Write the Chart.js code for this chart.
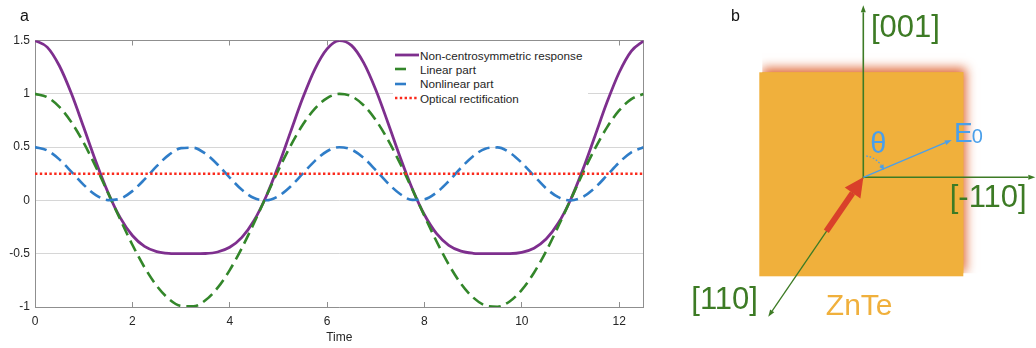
<!DOCTYPE html>
<html>
<head>
<meta charset="utf-8">
<script src="https://cdn.jsdelivr.net/npm/chart.js@4.4.1/dist/chart.umd.min.js"></script>
<style>
  html, body { margin: 0; padding: 0; background: #fff; }
  body { width: 1036px; height: 348px; position: relative; overflow: hidden; font-family: "Liberation Sans", Arial, sans-serif; }
  #wrapA { position: absolute; left: 0; top: 0; width: 660px; height: 348px; }
  #wrapB { position: absolute; left: 660px; top: 0; width: 376px; height: 348px; }
  .tag { position: absolute; font-size: 16px; line-height: 16px; color: #111; }
  #legendA { position: absolute; left: 393px; top: 41px; width: 195px; padding: 7px 0 6px; background: #fff; font-size: 11.7px; color: #262626; }
  #legendA .row { display: flex; align-items: center; height: 14.3px; white-space: nowrap; }
  #legendA svg { margin-left: 2px; margin-right: 1px; flex: none; }
</style>
</head>
<body>
<div id="wrapA"><canvas id="lineChart" width="660" height="348"></canvas></div>
<div id="wrapB"><canvas id="crystalChart" width="376" height="348"></canvas></div>
<div id="legendA"></div>
<span class="tag" style="left:20px; top:8px;">a</span>
<span class="tag" style="left:731px; top:8px;">b</span>

<script>
  const FONT = '"Liberation Sans", Arial, sans-serif';

  // ── DATA (panel a) ──
  const time = [0, 0.25, 0.5, 0.75, 1, 1.25, 1.5, 1.75, 2, 2.25, 2.5, 2.75, 3, 3.25, 3.5, 3.75, 4, 4.25, 4.5, 4.75,
    5, 5.25, 5.5, 5.75, 6, 6.25, 6.5, 6.75, 7, 7.25, 7.5, 7.75, 8, 8.25, 8.5, 8.75, 9, 9.25, 9.5, 9.75,
    10, 10.25, 10.5, 10.75, 11, 11.25, 11.5, 11.75, 12, 12.25, 12.5];
  const response = [1.5, 1.438, 1.263, 1.0, 0.686, 0.365, 0.074, -0.162, -0.329, -0.431, -0.480, -0.497, -0.500, -0.500,
    -0.498, -0.484, -0.440, -0.347, -0.189, 0.039, 0.324, 0.643, 0.960, 1.232, 1.421, 1.498, 1.454, 1.292, 1.038,
    0.729, 0.407, 0.109, -0.135, -0.312, -0.421, -0.476, -0.496, -0.500, -0.500, -0.499, -0.487, -0.448, -0.363,
    -0.213, 0.004, 0.284, 0.600, 0.920, 1.200, 1.401, 1.496];
  const linearPart = [1, 0.969, 0.878, 0.732, 0.540, 0.315, 0.071, -0.178, -0.416, -0.628, -0.801, -0.924, -0.990, -0.994,
    -0.937, -0.821, -0.654, -0.446, -0.211, 0.038, 0.284, 0.512, 0.709, 0.861, 0.960, 0.999, 0.977, 0.893, 0.754,
    0.568, 0.347, 0.104, -0.146, -0.386, -0.602, -0.781, -0.911, -0.985, -0.997, -0.948, -0.839, -0.679, -0.476,
    -0.243, 0.004, 0.252, 0.483, 0.685, 0.844, 0.950, 0.998];
  const nonlinearPart = [0.5, 0.469, 0.385, 0.268, 0.146, 0.050, 0.003, 0.016, 0.087, 0.197, 0.321, 0.427, 0.490, 0.494,
    0.439, 0.337, 0.214, 0.099, 0.022, 0.001, 0.040, 0.131, 0.251, 0.371, 0.461, 0.499, 0.477, 0.399, 0.284,
    0.161, 0.060, 0.005, 0.011, 0.074, 0.181, 0.305, 0.415, 0.485, 0.497, 0.449, 0.352, 0.231, 0.113,
    0.030, 0.000, 0.032, 0.117, 0.235, 0.356, 0.451, 0.498];
  const rectTime = [0, 12.5];
  const rectification = [0.25, 0.25];

  const seriesNames = ['Non-centrosymmetric response', 'Linear part', 'Nonlinear part', 'Optical rectification'];
  const xTicks = [0, 2, 4, 6, 8, 10, 12];
  const xTickLabels = ['0', '2', '4', '6', '8', '10', '12'];
  const yTicks = [-1, -0.5, 0, 0.5, 1, 1.5];
  const yTickLabels = ['-1', '-0.5', '0', '0.5', '1', '1.5'];

  const pts = (xs, ys) => xs.map((x, i) => ({ x: x, y: ys[i] }));

  // ── LINE CHART (panel a) ──
  const frameColor = '#8f8f8f';
  const sharedX = {
    type: 'linear', min: 0, max: 12.5,
    afterBuildTicks: s => { s.ticks = xTicks.map(v => ({ value: v })); },
    grid: { drawOnChartArea: false, drawTicks: true, tickLength: -5, color: frameColor, lineWidth: 1 },
    border: { display: true, color: frameColor, width: 1 }
  };

  const lineChart = new Chart(document.getElementById('lineChart').getContext('2d'), {
    type: 'line',
    data: {
      datasets: [
        { label: seriesNames[0], data: pts(time, response), borderColor: '#7e2f8e', borderWidth: 2.8, order: 4 },
        { label: seriesNames[1], data: pts(time, linearPart), borderColor: '#33862a', borderWidth: 2.6, borderDash: [12, 6], order: 3 },
        { label: seriesNames[2], data: pts(time, nonlinearPart), borderColor: '#2f7dc8', borderWidth: 2.6, borderDash: [12, 6], order: 2 },
        { label: seriesNames[3], data: pts(rectTime, rectification), borderColor: '#fa2a1c', borderWidth: 2.6, borderDash: [2.4, 2.4], order: 1 }
      ]
    },
    options: {
      responsive: false,
      animation: false,
      events: [],
      layout: { padding: { left: 0, right: 16.5, top: 40.5, bottom: 0 } },
      elements: {
        point: { radius: 0 },
        line: { cubicInterpolationMode: 'monotone', borderCapStyle: 'butt', fill: false }
      },
      plugins: { legend: { display: false }, tooltip: { enabled: false } },
      scales: {
        x: Object.assign({}, sharedX, {
          position: 'bottom',
          afterFit: s => { s.height = 41; },
          ticks: {
            padding: 12, color: '#262626', font: { family: FONT, size: 12 }, maxRotation: 0, autoSkip: false,
            callback: v => xTickLabels[xTicks.indexOf(v)]
          },
          title: { display: true, text: 'Time', color: '#262626', font: { family: FONT, size: 12 }, padding: { top: 0, bottom: 3 } }
        }),
        x2: Object.assign({}, sharedX, {
          position: 'top',
          afterFit: s => { s.height = 0; },
          ticks: { display: false }
        }),
        y: {
          type: 'linear', position: 'left', min: -1, max: 1.5,
          afterBuildTicks: s => { s.ticks = yTicks.map(v => ({ value: v })); },
          afterFit: s => { s.width = 35; },
          grid: { color: '#d6d6d6', lineWidth: 1, drawTicks: false },
          border: { display: true, color: frameColor, width: 1 },
          ticks: {
            padding: 5, color: '#262626', font: { family: FONT, size: 12 },
            callback: v => yTickLabels[yTicks.indexOf(v)]
          }
        },
        y2: {
          type: 'linear', position: 'right', min: -1, max: 1.5,
          afterFit: s => { s.width = 0; },
          grid: { display: false, drawTicks: false },
          border: { display: true, color: frameColor, width: 1 },
          ticks: { display: false }
        }
      }
    }
  });

  // ── HTML LEGEND ──
  (function() {
    const box = document.getElementById('legendA');
    lineChart.data.datasets.forEach(ds => {
      const row = document.createElement('div');
      row.className = 'row';
      const dash = ds.borderDash ? (ds.borderDash[0] > 5 ? '11 14' : ds.borderDash.join(' ')) : 'none';
      row.innerHTML =
        '<svg width="24" height="6"><line x1="0" y1="3" x2="24" y2="3" stroke="' + ds.borderColor +
        '" stroke-width="' + ds.borderWidth + '" stroke-dasharray="' + dash + '"/></svg>' +
        '<span>' + ds.label + '</span>';
      box.appendChild(row);
    });
  })();

  // ── DIAGRAM (panel b) ──
  // frame: origin at the crystal axes crossing, y up
  const crystal = { left: -104, right: 100, bottom: -99, top: 105 };
  const axis001 = [[0, 0], [0, 165]];
  const axisM110 = [[0, 0], [165, 0]];
  const axis110 = [[0, 0], [-91.1, -133.6]];
  const fieldE0 = [[0, 0], [82, 34.6]];
  const beamArrow = [[-37, -54], [-10.7, -15.7]];
  const thetaArc = { radius: 21.5, from: 82, to: 33 };

  const green = '#3d7b25';
  const blue = '#4a9fea';
  const orange = '#f0b03c';

  const toXY = a => a.map(p => ({ x: p[0], y: p[1] }));

  function drawHead(ctx, bx, by, dx, dy, len, width, color) {
    const n = Math.hypot(dx, dy);
    const ux = dx / n, uy = dy / n;
    ctx.beginPath();
    ctx.moveTo(bx + ux * len, by + uy * len);
    ctx.lineTo(bx - uy * width / 2, by + ux * width / 2);
    ctx.lineTo(bx + uy * width / 2, by - ux * width / 2);
    ctx.closePath();
    ctx.fillStyle = color;
    ctx.fill();
  }

  const crystalPlugin = {
    id: 'crystal',
    beforeDatasetsDraw(chart) {
      const { ctx, scales: { x, y } } = chart;
      const l = x.getPixelForValue(crystal.left), r = x.getPixelForValue(crystal.right);
      const t = y.getPixelForValue(crystal.top), b = y.getPixelForValue(crystal.bottom);
      ctx.save();
      ctx.beginPath();
      ctx.rect(l + 3, t - 20, r - l + 17, b - t + 17);
      ctx.clip();
      ctx.shadowColor = 'rgba(222,98,48,0.95)';
      ctx.shadowBlur = 10;
      ctx.shadowOffsetX = 3;
      ctx.shadowOffsetY = -4;
      ctx.fillStyle = orange;
      ctx.fillRect(l, t, r - l, b - t);
      ctx.restore();
      ctx.fillStyle = orange;
      ctx.fillRect(l, t, r - l, b - t);
    },
    afterDatasetsDraw(chart) {
      const { ctx, scales: { x, y } } = chart;
      ctx.save();
      // arrow heads on the line datasets
      chart.data.datasets.forEach(ds => {
        if (!ds.head) return;
        const n = ds.data.length;
        const p0 = ds.data[n - 2], p1 = ds.data[n - 1];
        const x0 = x.getPixelForValue(p0.x), y0 = y.getPixelForValue(p0.y);
        const x1 = x.getPixelForValue(p1.x), y1 = y.getPixelForValue(p1.y);
        drawHead(ctx, x1, y1, x1 - x0, y1 - y0, ds.head[0], ds.head[1], ds.borderColor);
      });
      // theta arc
      const cx = x.getPixelForValue(0), cy = y.getPixelForValue(0);
      const a0 = -thetaArc.from * Math.PI / 180, a1 = -thetaArc.to * Math.PI / 180;
      ctx.beginPath();
      ctx.setLineDash([1.6, 1.8]);
      ctx.lineWidth = 1.3;
      ctx.strokeStyle = blue;
      ctx.arc(cx, cy, thetaArc.radius, a0, a1, false);
      ctx.stroke();
      ctx.setLineDash([]);
      const ex = cx + thetaArc.radius * Math.cos(a1), ey = cy + thetaArc.radius * Math.sin(a1);
      drawHead(ctx, ex, ey, -Math.sin(a1), Math.cos(a1), 5, 5, blue);

      // labels
      const txt = (s, fx, fy, size, color) => {
        ctx.font = size + 'px ' + FONT;
        ctx.fillStyle = color;
        ctx.textAlign = 'left';
        ctx.textBaseline = 'alphabetic';
        ctx.fillText(s, x.getPixelForValue(fx), y.getPixelForValue(fy));
      };
      txt('[001]', 7.7, 140.8, 31, green);
      txt('[-110]', 86.4, -29.5, 31, green);
      txt('[110]', -172, -131.2, 31, green);
      txt('ZnTe', -37.5, -137.7, 30, orange);
      txt('E', 90.7, 35.6, 28, blue);
      txt('0', 108.5, 34.6, 20, blue);
      txt('\u03B8', 7, 24, 29, blue);
      ctx.restore();
    }
  };

  new Chart(document.getElementById('crystalChart').getContext('2d'), {
    type: 'scatter',
    data: {
      datasets: [
        { data: toXY(beamArrow), borderColor: '#d9402a', borderWidth: 6, head: [19, 19], order: 0 },
        { data: toXY(fieldE0), borderColor: blue, borderWidth: 1.3, head: [7, 5], order: 1 },
        { data: toXY(axis001), borderColor: green, borderWidth: 1.6, head: [7, 5], order: 2 },
        { data: toXY(axisM110), borderColor: green, borderWidth: 1.6, head: [7, 5], order: 2 },
        { data: toXY(axis110), borderColor: green, borderWidth: 1.3, head: [7, 5], order: 3 }
      ]
    },
    options: {
      responsive: false,
      animation: false,
      events: [],
      layout: { padding: 0 },
      datasets: { scatter: { showLine: true, pointRadius: 0, borderCapStyle: 'butt' } },
      plugins: { legend: { display: false }, tooltip: { enabled: false } },
      scales: {
        x: { type: 'linear', display: false, min: -203.3, max: 172.7 },
        y: { type: 'linear', display: false, min: -170.7, max: 177.3 }
      }
    },
    plugins: [crystalPlugin]
  });
</script>
</body>
</html>
